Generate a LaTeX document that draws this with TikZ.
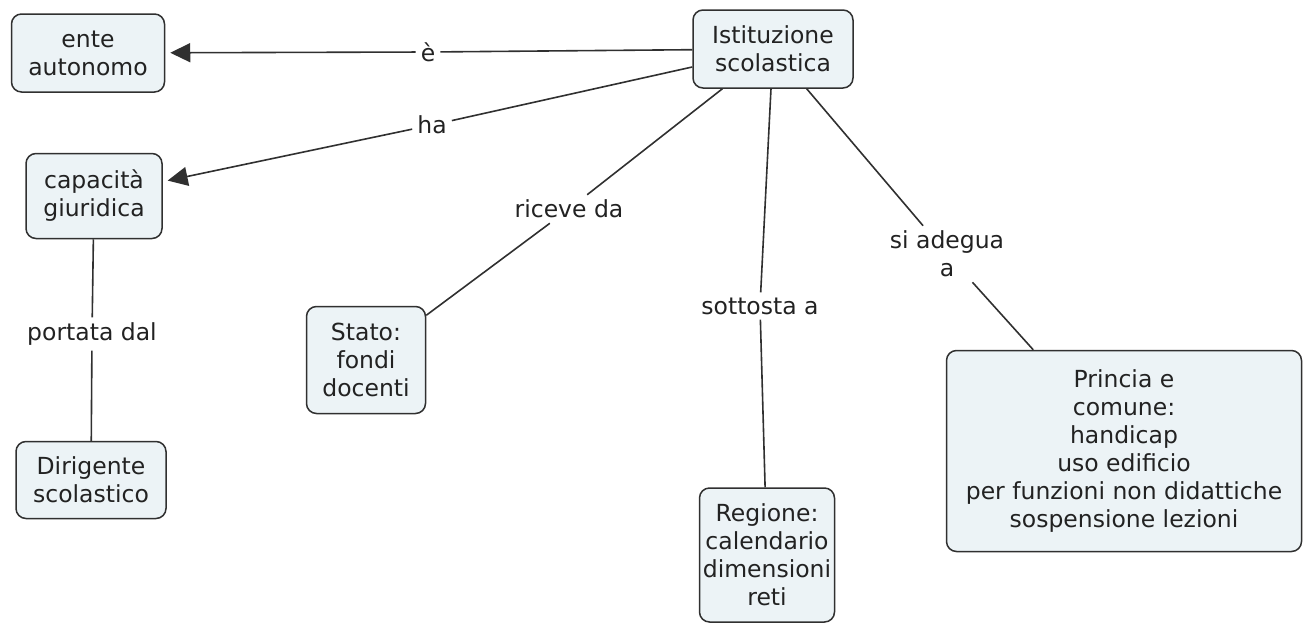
\documentclass[tikz,border=0pt]{standalone}
\usepackage{fontspec}
\setmainfont{DejaVu Sans}
\usetikzlibrary{arrows.meta}
\definecolor{conceptfill}{RGB}{236,243,246}
\definecolor{linegray}{RGB}{48,48,48}
\definecolor{textgray}{RGB}{34,34,34}

\begin{document}
\begin{tikzpicture}[x=1pt,y=-1pt,
    concept/.style={draw=linegray, line width=1.5pt, fill=conceptfill, rounded corners=10pt,
      align=center, inner sep=2pt, text=textgray, font=\fontsize{23.5}{28}\selectfont},
    linkword/.style={align=center, inner sep=5pt, text=textgray, font=\fontsize{23.5}{28}\selectfont},
    rel/.style={draw=linegray, line width=1.6pt},
    relarrow/.style={rel, -{Triangle[length=20pt,width=19pt]}, shorten >=5pt}]
  \useasboundingbox (0,0) rectangle (1303,624);

  \node[concept, minimum width=160pt, minimum height=78pt] (ist) at (773,49) {Istituzione\\scolastica};
  \node[concept, minimum width=153pt, minimum height=78pt] (ente) at (88,53) {ente\\autonomo};
  \node[concept, minimum width=136pt, minimum height=85pt] (cap) at (94,196) {capacità\\giuridica};
  \node[concept, minimum width=150pt, minimum height=77pt] (dir) at (91,480) {Dirigente\\scolastico};
  \node[concept, minimum width=119pt, minimum height=107pt] (stato) at (366,360) {Stato:\\fondi\\docenti};
  \node[concept, minimum width=135pt, minimum height=134pt] (reg) at (767,555) {Regione:\\calendario\\dimensioni\\reti};
  \node[concept, minimum width=355pt, minimum height=201pt] (prov) at (1124,451)
    {Princia e\\comune:\\handicap\\uso edificio\\per funzioni non didattiche\\sospensione lezioni};

  \node[linkword] (le) at (428,52) {è};
  \node[linkword] (lha) at (432,125) {ha};
  \node[linkword] (lric) at (569,209) {riceve da};
  \node[linkword] (lsot) at (760,306) {sottosta a};
  \node[linkword] (lsia) at (947,254) {si adegua\\a};
  \node[linkword] (lpor) at (92,334) {portata dal};

  \draw[rel] (ist) -- (le);
  \draw[relarrow] (le) -- (ente);
  \draw[rel] (ist) -- (lha);
  \draw[relarrow] (lha) -- (cap);
  \draw[rel] (ist) -- (lric);
  \draw[rel] (lric) -- (stato);
  \draw[rel] (ist) -- (lsot);
  \draw[rel] (lsot) -- (reg);
  \draw[rel] (ist) -- (lsia);
  \draw[rel] (lsia) -- (prov);
  \draw[rel] (cap) -- (lpor);
  \draw[rel] (lpor) -- (dir);
\end{tikzpicture}
\end{document}
